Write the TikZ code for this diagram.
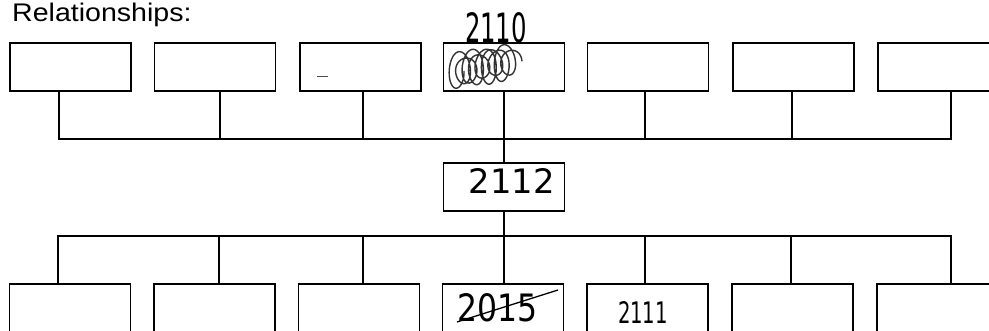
\documentclass[tikz,border=0pt]{standalone}
\usepackage{fontspec}
\usepackage{graphicx}
\setmainfont{Liberation Sans}
\newfontfamily\titlefont[FakeStretch=1.12]{Liberation Sans}
\newfontfamily\handfont{DejaVu Sans}
\begin{document}
\begin{tikzpicture}[x=1pt,y=-1pt,
  boxnode/.style={draw,line width=1.8pt,rectangle,inner sep=0pt,outer sep=0pt,minimum width=121pt,minimum height=48pt},
  link/.style={line width=1.8pt},
  handtext/.style={inner sep=0pt,outer sep=0pt}]
\clip (0,0) rectangle (989,331);
\fill[white] (0,0) rectangle (989,331);
% title
\node[anchor=base west,inner sep=0pt,font=\titlefont\fontsize{25.5}{28}\selectfont] (title) at (12,22) {Relationships:};
% top row
\node[boxnode] (t1) at (70.5,67) {};
\node[boxnode] (t2) at (215,67) {};
\node[boxnode] (t3) at (360.5,67) {};
\node[boxnode] (t4) at (504,67) {};
\node[boxnode] (t5) at (648,67) {};
\node[boxnode] (t6) at (793.5,67) {};
\node[boxnode] (t7) at (938.5,67) {};
% middle
\node[boxnode] (m) at (504,187) {};
% bottom row
\node[boxnode,minimum height=50pt] (b1) at (70,309) {};
\node[boxnode,minimum height=50pt] (b2) at (214.5,309) {};
\node[boxnode,minimum height=50pt] (b3) at (359,309) {};
\node[boxnode,minimum height=50pt] (b4) at (503,309) {};
\node[boxnode,minimum height=50pt] (b5) at (647.5,309) {};
\node[boxnode,minimum height=50pt] (b6) at (792.5,309) {};
\node[boxnode,minimum height=50pt] (b7) at (937.5,309) {};
% bus coordinates
\coordinate (tbus) at (0,139);
\coordinate (bbus) at (0,236);
% top connectors
\draw[link] ([xshift=-11.5pt]t1.south) |- ([xshift=12.5pt]t7.south |- tbus) -- ([xshift=12.5pt]t7.south);
\draw[link] ([xshift=5pt]t2.south) -- ([xshift=5pt]t2.south |- tbus);
\draw[link] ([xshift=2.5pt]t3.south) -- ([xshift=2.5pt]t3.south |- tbus);
\draw[link] ([xshift=-3pt]t5.south) -- ([xshift=-3pt]t5.south |- tbus);
\draw[link] ([xshift=-1.5pt]t6.south) -- ([xshift=-1.5pt]t6.south |- tbus);
\draw[link] (t4.south) -- (m.north);
% bottom connectors
\draw[link] ([xshift=-12pt]b1.north) |- ([xshift=13.5pt]b7.north |- bbus) -- ([xshift=13.5pt]b7.north);
\draw[link] ([xshift=4.5pt]b2.north) -- ([xshift=4.5pt]b2.north |- bbus);
\draw[link] ([xshift=4pt]b3.north) -- ([xshift=4pt]b3.north |- bbus);
\draw[link] ([xshift=-2.5pt]b5.north) -- ([xshift=-2.5pt]b5.north |- bbus);
\draw[link] ([xshift=-1.5pt]b6.north) -- ([xshift=-1.5pt]b6.north |- bbus);
\draw[link] (m.south) -- ([xshift=1pt]b4.north);
% handwriting
\node[handtext] (h2110) at (496,28) {\resizebox{62pt}{30pt}{\handfont 2110}};
\node[handtext] (h2112) at (512,181) {\resizebox{86pt}{25pt}{\handfont 2112}};
\node[handtext] (h2015) at (498,308) {\resizebox{80pt}{28pt}{\handfont 2015}};
\node[handtext] (h2111) at (643,313) {\resizebox{50pt}{22pt}{\handfont 2111}};
\draw[line width=1.3pt] (457,322) -- (558,290);
% scribble in top box 4
\draw[line width=1.4pt,black!80] plot[smooth,domain=0:3240,samples=300] ({455+\x/3240*58+9*cos(\x)},{71-0.003*\x+(15+4*sin(\x/2.3))*sin(\x)});
% small dash in box 3
\draw[line width=1pt,black!70] (317,77) -- (328,77);
\end{tikzpicture}
\end{document}
